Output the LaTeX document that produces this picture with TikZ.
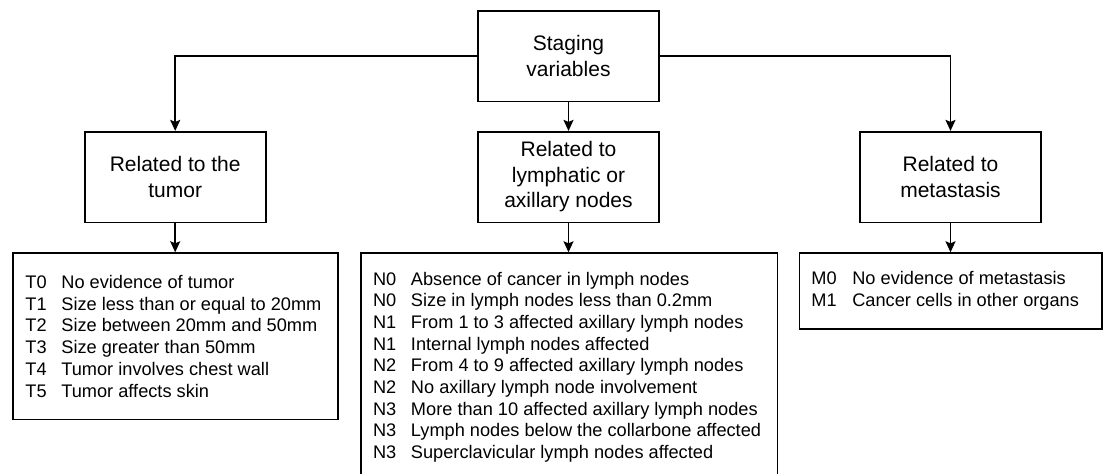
\documentclass[tikz,border=0pt]{standalone}
\usepackage{fontspec}
\setmainfont{Liberation Sans}
\usetikzlibrary{arrows.meta}
\tikzset{
  catbox/.style={draw, line width=1.6pt, minimum width=181pt, minimum height=90.6pt, inner sep=0pt, align=center, font=\fontsize{21}{25.5}\selectfont},
  listbox/.style={draw, line width=1.6pt, anchor=north, inner sep=0pt},
  listtext/.style={anchor=west, inner sep=0pt, align=left, font=\fontsize{18.2}{21.7}\selectfont},
  arr/.style={line width=1.6pt, -{Stealth[length=11pt,width=10pt,inset=2pt]}}
}
\newcommand{\tl}[1]{\makebox[36pt][l]{#1}}
\newcommand{\nl}[1]{\makebox[38pt][l]{#1}}
\newcommand{\ml}[1]{\makebox[41pt][l]{#1}}
\begin{document}
\begin{tikzpicture}[x=1pt,y=-1pt]
\useasboundingbox (0,0) rectangle (1104,474);
\node[catbox] (top) at (568.5,56) {Staging\\variables};
\node[catbox] (tumor) at (175.2,177) {Related to the\\tumor};
\node[catbox] (lymph) at (568.5,177) {Related to\\lymphatic or\\axillary nodes};
\node[catbox] (meta) at (950.5,177) {Related to\\metastasis};

\node[listbox, minimum width=325pt, minimum height=166.4pt] (tlist) at (175.2,252.3) {};
\node[listtext] (ttext) at ([xshift=13.3pt]tlist.west) {%
\tl{T0}No evidence of tumor\\
\tl{T1}Size less than or equal to 20mm\\
\tl{T2}Size between 20mm and 50mm\\
\tl{T3}Size greater than 50mm\\
\tl{T4}Tumor involves chest wall\\
\tl{T5}Tumor affects skin};

\node[listbox, minimum width=416.6pt, minimum height=228pt] (nlist) at (569.3,252.3) {};
\node[listtext] (ntext) at ([xshift=12.6pt]nlist.west) {%
\nl{N0}Absence of cancer in lymph nodes\\
\nl{N0}Size in lymph nodes less than 0.2mm\\
\nl{N1}From 1 to 3 affected axillary lymph nodes\\
\nl{N1}Internal lymph nodes affected\\
\nl{N2}From 4 to 9 affected axillary lymph nodes\\
\nl{N2}No axillary lymph node involvement\\
\nl{N3}More than 10 affected axillary lymph nodes\\
\nl{N3}Lymph nodes below the collarbone affected\\
\nl{N3}Superclavicular lymph nodes affected};

\node[listbox, minimum width=302.5pt, minimum height=75.7pt] (mlist) at (950.6,252.3) {};
\node[listtext] (mtext) at ([xshift=12.6pt]mlist.west) {%
\ml{M0}No evidence of metastasis\\
\ml{M1}Cancer cells in other organs};

\draw[arr] (top.west) -| (tumor.north);
\draw[arr] (top.south) -- (lymph.north);
\draw[arr] (top.east) -| (meta.north);
\draw[arr] (tumor.south) -- (tlist.north);
\draw[arr] (lymph.south) -- (lymph.south |- nlist.north);
\draw[arr] (meta.south) -- (meta.south |- mlist.north);
\end{tikzpicture}
\end{document}
